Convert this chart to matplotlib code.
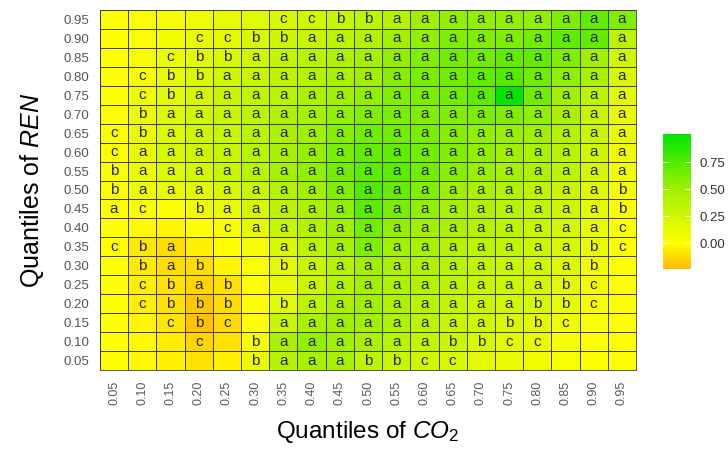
import numpy as np
import matplotlib
matplotlib.use('Agg')
import matplotlib.pyplot as plt
from matplotlib.colors import LinearSegmentedColormap

plt.rcParams['font.family'] = ['Liberation Sans', 'DejaVu Sans']
plt.rcParams['mathtext.fontset'] = 'custom'
plt.rcParams['mathtext.rm'] = 'Liberation Sans'
plt.rcParams['mathtext.it'] = 'Liberation Sans:italic'

quantiles = ['0.05', '0.10', '0.15', '0.20', '0.25', '0.30', '0.35', '0.40', '0.45', '0.50',
             '0.55', '0.60', '0.65', '0.70', '0.75', '0.80', '0.85', '0.90', '0.95']

# rows of the heatmap, REN quantile 0.95 (top) down to 0.05 (bottom); columns are CO2 quantiles
values = [
    [0.00, 0.02, 0.05, 0.08, 0.12, 0.15, 0.20, 0.25, 0.30, 0.35, 0.40, 0.50, 0.55, 0.55, 0.55, 0.55, 0.60, 0.70, 0.60],
    [0.00, 0.03, 0.06, 0.10, 0.15, 0.20, 0.25, 0.30, 0.35, 0.40, 0.50, 0.55, 0.60, 0.60, 0.60, 0.65, 0.70, 0.70, 0.35],
    [0.00, 0.04, 0.10, 0.15, 0.20, 0.25, 0.32, 0.38, 0.42, 0.47, 0.55, 0.60, 0.65, 0.65, 0.70, 0.70, 0.60, 0.50, 0.25],
    [0.00, 0.05, 0.12, 0.20, 0.25, 0.30, 0.35, 0.40, 0.45, 0.50, 0.58, 0.62, 0.65, 0.70, 0.75, 0.65, 0.55, 0.45, 0.20],
    [0.00, 0.08, 0.15, 0.22, 0.28, 0.33, 0.38, 0.44, 0.50, 0.55, 0.60, 0.62, 0.65, 0.72, 1.00, 0.65, 0.50, 0.35, 0.15],
    [0.02, 0.10, 0.18, 0.25, 0.30, 0.35, 0.42, 0.48, 0.55, 0.60, 0.62, 0.60, 0.60, 0.62, 0.60, 0.55, 0.45, 0.30, 0.12],
    [0.02, 0.10, 0.18, 0.25, 0.30, 0.36, 0.44, 0.50, 0.58, 0.65, 0.65, 0.62, 0.58, 0.55, 0.52, 0.50, 0.40, 0.28, 0.10],
    [0.03, 0.12, 0.20, 0.25, 0.30, 0.38, 0.46, 0.53, 0.62, 0.70, 0.70, 0.65, 0.60, 0.55, 0.50, 0.45, 0.38, 0.25, 0.08],
    [0.02, 0.10, 0.18, 0.23, 0.30, 0.38, 0.47, 0.55, 0.65, 0.72, 0.72, 0.65, 0.58, 0.52, 0.48, 0.42, 0.35, 0.22, 0.06],
    [0.02, 0.08, 0.12, 0.15, 0.20, 0.30, 0.40, 0.50, 0.60, 0.75, 0.68, 0.60, 0.52, 0.45, 0.40, 0.35, 0.28, 0.18, 0.05],
    [0.00, 0.03, 0.02, 0.06, 0.12, 0.22, 0.35, 0.45, 0.55, 0.72, 0.62, 0.55, 0.48, 0.42, 0.38, 0.32, 0.25, 0.15, 0.03],
    [0.00, -0.02, -0.03, 0.00, 0.05, 0.15, 0.30, 0.40, 0.50, 0.65, 0.55, 0.50, 0.45, 0.40, 0.35, 0.30, 0.22, 0.12, 0.02],
    [0.00, -0.08, -0.12, -0.05, 0.00, 0.05, 0.20, 0.35, 0.45, 0.60, 0.50, 0.45, 0.40, 0.35, 0.32, 0.28, 0.20, 0.10, 0.01],
    [0.00, -0.07, -0.12, -0.12, -0.03, 0.03, 0.15, 0.30, 0.40, 0.50, 0.45, 0.42, 0.38, 0.33, 0.30, 0.25, 0.18, 0.08, 0.00],
    [0.00, -0.05, -0.10, -0.15, -0.10, 0.00, 0.10, 0.28, 0.40, 0.50, 0.42, 0.40, 0.35, 0.30, 0.27, 0.22, 0.15, 0.06, 0.00],
    [0.00, -0.05, -0.10, -0.20, -0.12, 0.00, 0.15, 0.35, 0.45, 0.50, 0.42, 0.38, 0.33, 0.28, 0.24, 0.20, 0.12, 0.05, 0.00],
    [0.00, -0.03, -0.08, -0.22, -0.13, 0.00, 0.30, 0.45, 0.50, 0.50, 0.42, 0.36, 0.30, 0.25, 0.20, 0.15, 0.08, 0.03, 0.00],
    [0.00, -0.02, -0.06, -0.15, -0.10, 0.05, 0.45, 0.55, 0.50, 0.45, 0.38, 0.32, 0.28, 0.20, 0.15, 0.10, 0.05, 0.02, 0.00],
    [0.00, -0.02, -0.05, -0.10, -0.05, 0.10, 0.40, 0.45, 0.45, 0.35, 0.30, 0.25, 0.20, 0.15, 0.10, 0.06, 0.03, 0.01, 0.00],
]

# significance letters, same layout ('-' = none)
letters = [
    "- - - - - - c c b b a a a a a a a a a",
    "- - - c c b b a a a a a a a a a a a a",
    "- - c b b a a a a a a a a a a a a a a",
    "- c b b a a a a a a a a a a a a a a a",
    "- c b a a a a a a a a a a a a a a a a",
    "- b a a a a a a a a a a a a a a a a a",
    "c b a a a a a a a a a a a a a a a a a",
    "c a a a a a a a a a a a a a a a a a a",
    "b a a a a a a a a a a a a a a a a a a",
    "b a a a a a a a a a a a a a a a a a b",
    "a c - b a a a a a a a a a a a a a a b",
    "- - - - c a a a a a a a a a a a a a c",
    "c b a - - - a a a a a a a a a a a b c",
    "- b a b - - b a a a a a a a a a a b -",
    "- c b a b - - a a a a a a a a a b c -",
    "- c b b b - b a a a a a a a a b b c -",
    "- - c b c - a a a a a a a a b b c - -",
    "- - - c - b a a a a a a b b c c - - -",
    "- - - - - b a a a b b c c - - - - - -",
]

vmin, vmax = -0.24, 1.01
pos0 = (0 - vmin) / (vmax - vmin)
posm = (0.5 - vmin) / (vmax - vmin)
cmap = LinearSegmentedColormap.from_list(
    'oyg', [(0.0, '#FFBC00'), (pos0, '#FFFF00'), (posm, '#A0F000'), (1.0, '#00E600')])

Z = np.array(values)[::-1]  # bottom row first
n = len(quantiles)

fig = plt.figure(figsize=(7.28, 4.49), dpi=100)
ax = fig.add_axes([100 / 728, 1 - 370 / 449, 536 / 728, 360 / 449])
mesh = ax.pcolormesh(np.arange(n + 1), np.arange(n + 1), Z, cmap=cmap, vmin=vmin, vmax=vmax,
                     edgecolors='#404038', linewidth=0.55)

for r, row in enumerate(letters):
    yi = n - 1 - r
    for c, lab in enumerate(row.split()):
        if lab != '-':
            ax.text(c + 0.5, yi + 0.5, lab, ha='center', va='center', fontsize=11, color='#262626')

ax.set_xlim(0, n)
ax.set_ylim(0, n)
ax.set_xticks(np.arange(n) + 0.5)
ax.set_xticklabels(quantiles, rotation=90, fontsize=9, color='#5a5a5a')
ax.set_yticks(np.arange(n) + 0.5)
ax.set_yticklabels(quantiles, fontsize=9.5, color='#555555')
ax.tick_params(length=0, pad=8)
for s in ax.spines.values():
    s.set_color('#404038')
    s.set_linewidth(0.6)

ax.set_xlabel(r'Quantiles of $\mathit{CO}_\mathrm{2}$', fontsize=17.5, labelpad=10)
ax.set_ylabel(r'Quantiles of $\mathit{REN}$', fontsize=18, labelpad=12)

cax = fig.add_axes([663 / 728, 1 - 269 / 449, 28 / 728, 135 / 449])
cb = fig.colorbar(mesh, cax=cax)
cb.outline.set_visible(False)
cb.set_ticks([0.0, 0.25, 0.5, 0.75])
cb.set_ticklabels(['0.00', '0.25', '0.50', '0.75'])
cax.tick_params(length=0, labelsize=9.5, labelcolor='#333333', pad=6)
for t in [0.0, 0.25, 0.5, 0.75]:
    cax.plot([0, 0.2], [t, t], color='white', lw=0.6, transform=cax.get_yaxis_transform())
    cax.plot([0.8, 1.0], [t, t], color='white', lw=0.6, transform=cax.get_yaxis_transform())

fig.savefig('out.png', dpi=100)
